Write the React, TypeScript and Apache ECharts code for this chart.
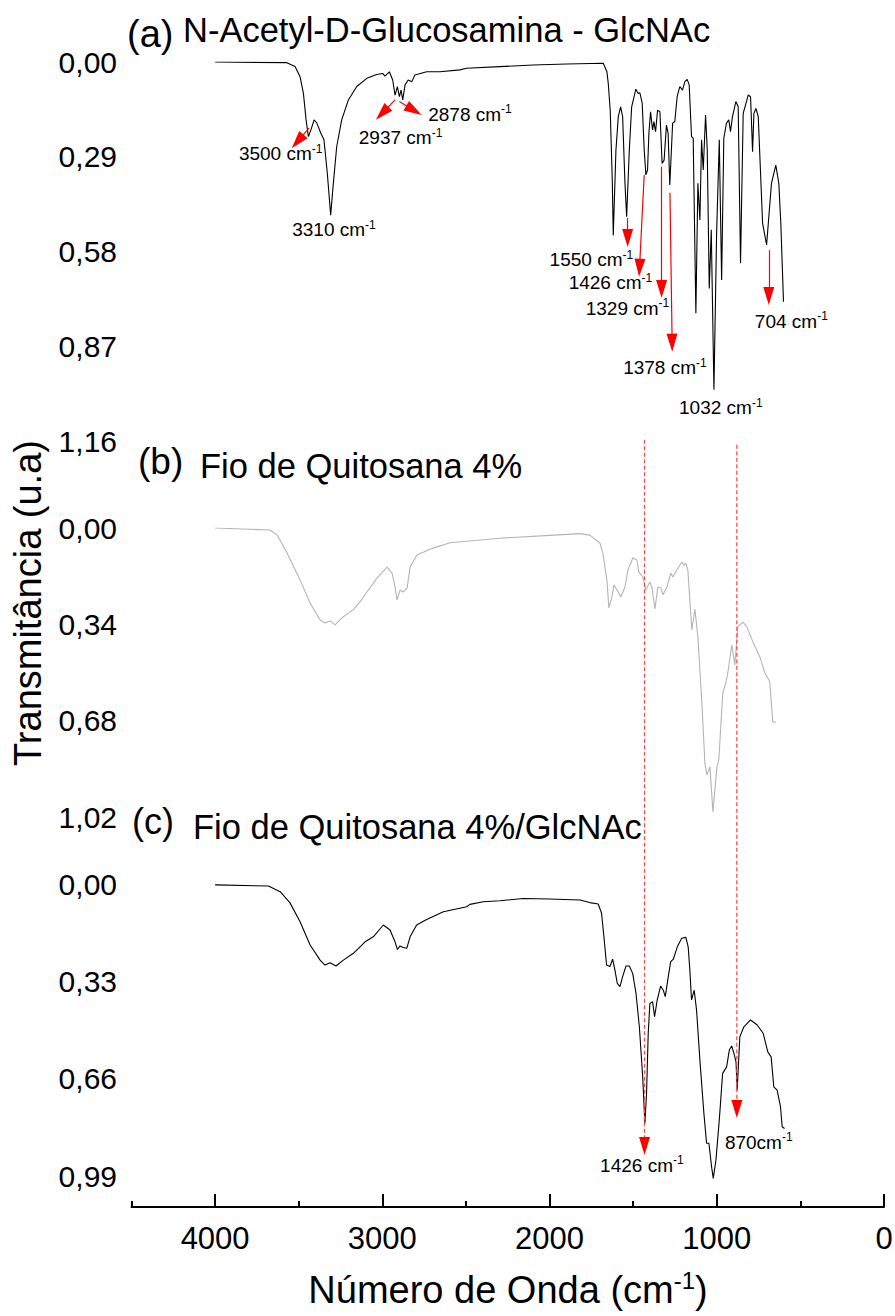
import React, { useEffect, useRef } from 'react';
import * as echarts from 'echarts';

const FONT = '"Liberation Sans", Arial, Helvetica, sans-serif';

// ---- x axis (wavenumber, cm-1) ----
const xMajorTicks = [0, 1000, 2000, 3000, 4000];
const xMinorTicks = [500, 1500, 2500, 3500, 4500];

// ---- y tick labels per panel ----
const yTicksA = [0, 0.29, 0.58, 0.87, 1.16];
const yTicksB = [0, 0.34, 0.68, 1.02];
const yTicksC = [0, 0.33, 0.66, 0.99];

// ---- (a) N-Acetyl-D-Glucosamina ----
const waveA = [4000, 3571, 3522, 3492, 3472, 3456, 3442, 3426, 3408, 3392, 3368, 3349, 3329, 3309, 3293, 3273, 3243, 3203, 3153, 3093, 3034, 2998, 2984, 2958, 2938, 2924, 2910, 2898, 2888, 2878, 2864, 2845, 2824, 2805, 2735, 2655, 2536, 2496, 2297, 2098, 1898, 1679, 1657, 1649, 1637, 1625, 1619, 1603, 1589, 1575, 1563, 1549, 1539, 1523, 1509, 1484, 1470, 1460, 1446, 1434, 1424, 1414, 1406, 1396, 1384, 1376, 1366, 1354, 1340, 1327, 1315, 1301, 1291, 1281, 1264, 1251, 1237, 1221, 1205, 1191, 1177, 1165, 1151, 1141, 1125, 1113, 1101, 1091, 1081, 1067, 1057, 1045, 1033, 1017, 1001, 985, 971, 958, 942, 928, 918, 906, 886, 872, 858, 842, 812, 798, 786, 778, 766, 752, 726, 702, 673, 647, 629, 617, 601];
const transA = [0.000, 0.002, 0.014, 0.045, 0.096, 0.177, 0.228, 0.206, 0.177, 0.186, 0.218, 0.238, 0.340, 0.468, 0.371, 0.259, 0.177, 0.116, 0.075, 0.050, 0.038, 0.035, 0.043, 0.030, 0.055, 0.101, 0.075, 0.106, 0.086, 0.116, 0.070, 0.055, 0.060, 0.040, 0.030, 0.030, 0.024, 0.019, 0.014, 0.009, 0.006, 0.004, 0.030, 0.065, 0.150, 0.361, 0.530, 0.269, 0.167, 0.137, 0.167, 0.371, 0.473, 0.269, 0.137, 0.083, 0.096, 0.094, 0.126, 0.269, 0.345, 0.330, 0.218, 0.152, 0.208, 0.182, 0.213, 0.147, 0.152, 0.310, 0.300, 0.193, 0.218, 0.376, 0.187, 0.182, 0.106, 0.075, 0.086, 0.060, 0.053, 0.070, 0.228, 0.233, 0.768, 0.371, 0.483, 0.238, 0.330, 0.162, 0.269, 0.692, 0.513, 1.002, 0.524, 0.238, 0.666, 0.233, 0.187, 0.177, 0.213, 0.167, 0.121, 0.137, 0.615, 0.157, 0.101, 0.106, 0.274, 0.157, 0.142, 0.167, 0.493, 0.559, 0.371, 0.315, 0.371, 0.493, 0.733];

// ---- (b) Fio de Quitosana 4% ----
const waveB = [4000, 3671, 3629, 3570, 3492, 3432, 3372, 3343, 3313, 3283, 3235, 3175, 3133, 3092, 3032, 2972, 2942, 2924, 2912, 2894, 2876, 2852, 2834, 2793, 2697, 2595, 2297, 1998, 1818, 1759, 1699, 1681, 1657, 1645, 1627, 1615, 1597, 1573, 1549, 1531, 1502, 1478, 1466, 1442, 1424, 1400, 1388, 1370, 1352, 1334, 1322, 1298, 1275, 1263, 1239, 1209, 1197, 1185, 1173, 1149, 1131, 1113, 1089, 1071, 1059, 1041, 1023, 999, 988, 964, 946, 934, 910, 892, 874, 844, 820, 784, 742, 713, 683, 665, 647];
const transB = [0, 0.007, 0.025, 0.088, 0.183, 0.265, 0.325, 0.335, 0.328, 0.342, 0.314, 0.289, 0.261, 0.226, 0.177, 0.138, 0.159, 0.208, 0.254, 0.219, 0.226, 0.212, 0.138, 0.095, 0.071, 0.052, 0.036, 0.026, 0.020, 0.025, 0.053, 0.088, 0.184, 0.282, 0.243, 0.201, 0.219, 0.243, 0.208, 0.148, 0.106, 0.113, 0.155, 0.173, 0.219, 0.191, 0.208, 0.286, 0.208, 0.212, 0.236, 0.208, 0.159, 0.173, 0.148, 0.120, 0.131, 0.124, 0.148, 0.360, 0.286, 0.385, 0.618, 0.830, 0.872, 0.843, 1.002, 0.843, 0.819, 0.582, 0.547, 0.511, 0.413, 0.483, 0.349, 0.332, 0.349, 0.402, 0.455, 0.511, 0.543, 0.685, 0.685];

// ---- (c) Fio de Quitosana 4%/GlcNAc ----
const waveC = [4000, 3681, 3611, 3552, 3492, 3432, 3372, 3343, 3313, 3277, 3233, 3173, 3103, 3054, 2994, 2954, 2924, 2910, 2894, 2875, 2854, 2834, 2795, 2735, 2635, 2496, 2476, 2396, 2297, 2157, 1998, 1818, 1759, 1709, 1689, 1675, 1659, 1639, 1623, 1609, 1595, 1579, 1563, 1543, 1523, 1503, 1483, 1463, 1443, 1430, 1420, 1410, 1400, 1384, 1372, 1356, 1336, 1320, 1308, 1290, 1276, 1260, 1236, 1210, 1185, 1171, 1161, 1151, 1135, 1121, 1101, 1077, 1061, 1047, 1031, 1021, 1005, 985, 965, 941, 925, 911, 897, 885, 878, 862, 838, 798, 758, 722, 695, 675, 659, 639, 619, 609, 595];
const transC = [0.003, 0.007, 0.026, 0.064, 0.128, 0.207, 0.258, 0.275, 0.267, 0.278, 0.258, 0.235, 0.196, 0.179, 0.139, 0.156, 0.196, 0.222, 0.210, 0.215, 0.218, 0.179, 0.139, 0.120, 0.094, 0.077, 0.069, 0.060, 0.057, 0.049, 0.051, 0.054, 0.063, 0.068, 0.099, 0.179, 0.275, 0.280, 0.255, 0.292, 0.337, 0.348, 0.314, 0.278, 0.278, 0.303, 0.371, 0.484, 0.654, 0.812, 0.710, 0.507, 0.405, 0.399, 0.450, 0.393, 0.346, 0.360, 0.382, 0.314, 0.264, 0.255, 0.213, 0.184, 0.181, 0.213, 0.292, 0.393, 0.360, 0.427, 0.597, 0.778, 0.879, 0.879, 0.959, 0.998, 0.936, 0.800, 0.642, 0.620, 0.563, 0.549, 0.575, 0.603, 0.699, 0.518, 0.484, 0.461, 0.478, 0.507, 0.569, 0.586, 0.688, 0.699, 0.755, 0.823, 0.829];

// ---- annotations (data coordinates: wavenumber, transmittance) ----
const arrowFromA = [[3438, 0.202], [2924, 0.116], [2898, 0.121], [1533, 0.477], [1434, 0.345], [1330, 0.320], [1280, 0.400], [689, 0.575]];
const arrowToA = [[3507, 0.243], [3001, 0.157], [2811, 0.148], [1533, 0.538], [1462, 0.629], [1330, 0.694], [1267, 0.858], [689, 0.715]];
const labelTextA = ['3500 cm', '3310 cm', '2937 cm', '2878 cm', '1550 cm', '1426 cm', '1329 cm', '1378 cm', '1032 cm', '704 cm'];
const labelPosA = [[3608, 0.281], [3289, 0.513], [2891, 0.232], [2476, 0.159], [1750, 0.605], [1636, 0.675], [1534, 0.752], [1310, 0.935], [976, 1.057], [554, 0.792]];
const labelTextC = ['1426 cm', '870cm'];
const labelPosC = [[1448, 0.953], [749, 0.875]];
const guideWave = [1432, 880];
const guideTop = [-1.506, -1.489];
const guideEnd = [0.888, 0.763];

export default function App() {
  const ref = useRef<HTMLDivElement>(null);
  useEffect(() => {
    const chart = echarts.init(ref.current as HTMLDivElement, null, { renderer: 'svg' });
    const fmt = (v: number) => Number(v).toFixed(2).replace('.', ',');
    const zip = (w: number[], v: number[]) => w.map((x, i) => [x, v[i]]);
    const richLbl = {
      n: { fontSize: 19, fontFamily: FONT, color: '#000', lineHeight: 22 },
      s: { fontSize: 12, fontFamily: FONT, color: '#000', lineHeight: 12, verticalAlign: 'top' },
    };
    const markLabels = (texts: string[], pos: number[][]) => ({
      silent: true,
      symbol: 'circle',
      symbolSize: 1,
      itemStyle: { color: 'rgba(0,0,0,0)' },
      label: {
        show: true,
        position: 'inside',
        formatter: (p: any) => `{n|${p.name}}{s|-1}`,
        rich: richLbl,
      },
      data: texts.map((t, i) => ({ name: t, coord: pos[i] })),
    });
    const hiddenX = (gi: number) => ({ type: 'value', gridIndex: gi, min: 0, max: 4500, inverse: true, show: false });
    const yAx = (gi: number, max: number, ticks: number[]) => ({
      type: 'value', gridIndex: gi, min: 0, max, inverse: true,
      axisLine: { show: false }, axisTick: { show: false }, splitLine: { show: false },
      axisLabel: { customValues: ticks, formatter: fmt, fontSize: 30, fontFamily: FONT, color: '#000', margin: 14.5 },
    });
    const guides = guideWave.map((w, i) => ({
      type: 'line', xAxisIndex: 2, yAxisIndex: 2, clip: false, silent: true, z: 5,
      showSymbol: true, symbol: 'triangle', symbolSize: [11, 18], symbolRotate: 180,
      itemStyle: { color: '#ff0000' },
      lineStyle: { color: '#ff4a4a', width: 1.3, type: [4, 2.5] },
      data: [{ value: [w, guideTop[i]], symbol: 'none' }, { value: [w, guideEnd[i]] }],
    }));

    const option: any = {
      animation: false,
      backgroundColor: '#fff',
      grid: [
        { left: 131.5, right: 11, top: 62, height: 379.5, outerBoundsMode: 'none' },
        { left: 131.5, right: 11, top: 528, height: 289, outerBoundsMode: 'none' },
        { left: 131.5, right: 11, top: 884, height: 323, outerBoundsMode: 'none' },
      ],
      xAxis: [
        hiddenX(0),
        hiddenX(1),
        {
          type: 'value', gridIndex: 2, min: 0, max: 4500, inverse: true, position: 'bottom',
          axisLine: { show: true, onZero: false, lineStyle: { color: '#000', width: 2 } },
          axisTick: { show: true, inside: true, length: 13, lineStyle: { color: '#000', width: 2 }, customValues: xMajorTicks },
          axisLabel: { customValues: xMajorTicks, formatter: (v: number) => String(v), fontSize: 31, fontFamily: FONT, color: '#000', margin: 31, verticalAlign: 'middle' },
          splitLine: { show: false },
        },
        {
          type: 'value', gridIndex: 2, min: 0, max: 4500, inverse: true, position: 'bottom', offset: 0,
          axisLine: { show: false, onZero: false },
          axisTick: { show: true, inside: true, length: 6, lineStyle: { color: '#000', width: 2 }, customValues: xMinorTicks },
          axisLabel: { show: false },
          splitLine: { show: false },
        },
      ],
      yAxis: [yAx(0, 1.16, yTicksA), yAx(1, 1.02, yTicksB), yAx(2, 1.095, yTicksC)],
      series: [
        {
          type: 'line', xAxisIndex: 0, yAxisIndex: 0, data: zip(waveA, transA), showSymbol: false, silent: true,
          lineStyle: { color: '#000', width: 1.1 },
          markLine: {
            silent: true, symbol: ['none', 'triangle'], symbolSize: [1, 18],
            lineStyle: { color: '#ff0000', width: 1.2, type: 'solid' },
            itemStyle: { color: '#ff0000' },
            label: { show: false },
            emphasis: { disabled: true },
            data: arrowFromA.map((f, i) => [
              { coord: f, symbol: 'none' },
              { coord: arrowToA[i], symbol: 'triangle', symbolSize: [11, 18] },
            ]),
          },
          markPoint: markLabels(labelTextA, labelPosA),
        },
        {
          type: 'line', xAxisIndex: 1, yAxisIndex: 1, data: zip(waveB, transB), showSymbol: false, silent: true,
          lineStyle: { color: '#b4b4b4', width: 1.1 },
        },
        {
          type: 'line', xAxisIndex: 2, yAxisIndex: 2, data: zip(waveC, transC), showSymbol: false, silent: true,
          lineStyle: { color: '#000', width: 1.1 },
          markPoint: markLabels(labelTextC, labelPosC),
        },
        ...guides,
      ],
      graphic: [
        { type: 'text', x: 127, y: 33.5, style: { text: '(a)', fill: '#000', fontSize: 38, fontFamily: FONT, align: 'left', verticalAlign: 'middle' } },
        { type: 'text', x: 183, y: 29.6, style: { text: 'N-Acetyl-D-Glucosamina - GlcNAc', fill: '#000', fontSize: 34.5, fontFamily: FONT, align: 'left', verticalAlign: 'middle' } },
        { type: 'text', x: 138, y: 461, style: { text: '(b)', fill: '#000', fontSize: 37, fontFamily: FONT, align: 'left', verticalAlign: 'middle' } },
        { type: 'text', x: 200, y: 466, style: { text: 'Fio de Quitosana 4%', fill: '#000', fontSize: 34.5, fontFamily: FONT, align: 'left', verticalAlign: 'middle' } },
        { type: 'text', x: 132, y: 821.5, style: { text: '(c)', fill: '#000', fontSize: 36, fontFamily: FONT, align: 'left', verticalAlign: 'middle' } },
        { type: 'text', x: 193, y: 827, style: { text: 'Fio de Quitosana 4%/GlcNAc', fill: '#000', fontSize: 34.5, fontFamily: FONT, align: 'left', verticalAlign: 'middle' } },
        { type: 'text', x: 28, y: 603, rotation: Math.PI / 2, style: { text: 'Transmitância (u.a)', fill: '#000', fontSize: 38, fontFamily: FONT, align: 'center', verticalAlign: 'middle' } },
        {
          type: 'text', x: 508, y: 1290,
          style: {
            text: '{n|Número de Onda (cm}{s|-1}{n|)}', align: 'center', verticalAlign: 'middle',
            rich: {
              n: { fontSize: 38, fontFamily: FONT, fill: '#000', color: '#000', lineHeight: 44 },
              s: { fontSize: 24, fontFamily: FONT, fill: '#000', color: '#000', lineHeight: 24, verticalAlign: 'top' },
            },
          },
        },
      ],
    };
    chart.setOption(option);
    return () => chart.dispose();
  }, []);
  return <div ref={ref} style={{ position: 'absolute', left: 0, top: 0, width: 895, height: 1316, background: '#fff' }} />;
}
